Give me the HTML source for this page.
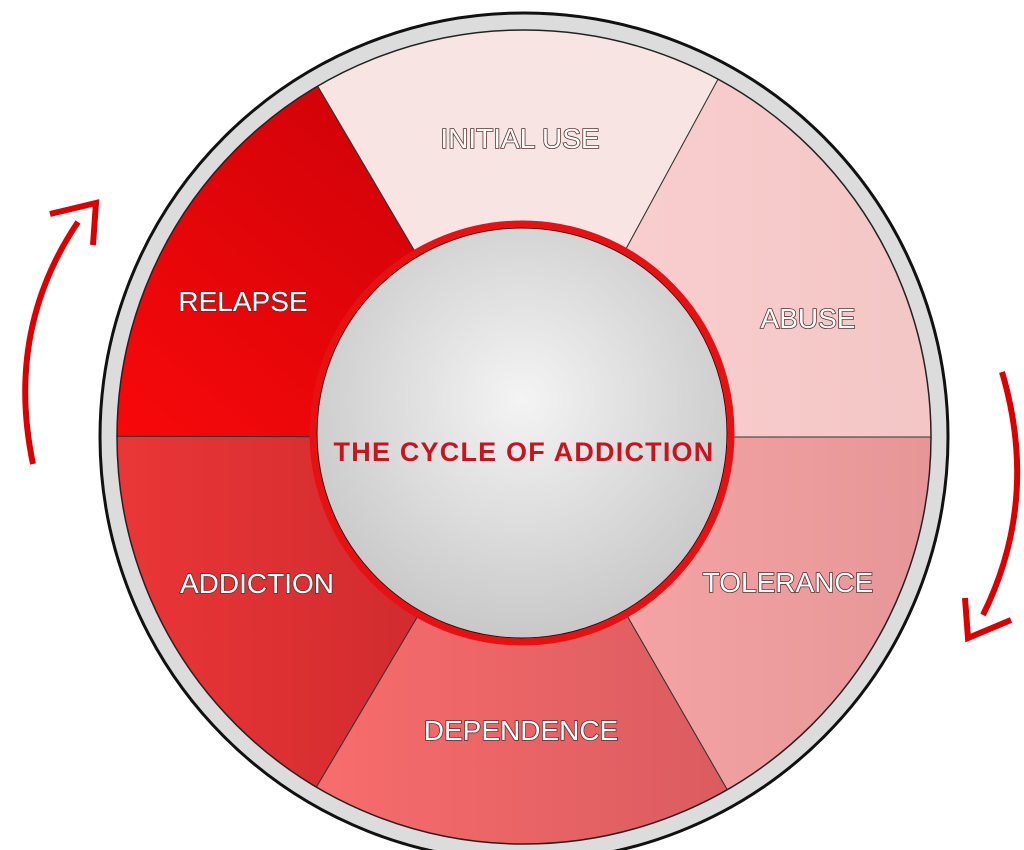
<!DOCTYPE html>
<html><head><meta charset="utf-8"><style>
html,body{margin:0;padding:0;background:#fff;width:1024px;height:850px;overflow:hidden}
svg{display:block}
.lbl{font-family:"Liberation Sans",sans-serif;font-size:28px;fill:#fff;stroke:#5a3030;stroke-width:1.6px;paint-order:stroke;text-anchor:middle}
</style></head><body>
<svg width="1024" height="850" viewBox="0 0 1024 850" xmlns="http://www.w3.org/2000/svg">
<defs>
<clipPath id="disk"><circle cx="524" cy="437" r="407"/></clipPath>
<linearGradient id="gRel" x1="0" y1="1" x2="1" y2="0"><stop offset="0" stop-color="#ff0a0a"/><stop offset="1" stop-color="#c00008"/></linearGradient>
<linearGradient id="gAdd" x1="0" y1="0" x2="1" y2="0"><stop offset="0" stop-color="#f43a3a"/><stop offset="1" stop-color="#c8282c"/></linearGradient>
<linearGradient id="gDep" x1="0" y1="0" x2="1" y2="0"><stop offset="0" stop-color="#fb6e6e"/><stop offset="1" stop-color="#d85a5e"/></linearGradient>
<linearGradient id="gTol" x1="0" y1="0" x2="1" y2="0"><stop offset="0" stop-color="#f8a8a8"/><stop offset="1" stop-color="#e29294"/></linearGradient>
<linearGradient id="gAbu" x1="0" y1="0" x2="1" y2="0"><stop offset="0" stop-color="#fbd0d0"/><stop offset="1" stop-color="#f2c4c4"/></linearGradient>
<radialGradient id="gCen" cx="0.5" cy="0.42" r="0.6"><stop offset="0" stop-color="#f4f4f4"/><stop offset="1" stop-color="#c6c6c6"/></radialGradient>
</defs>
<circle cx="524" cy="437" r="424" fill="#dcdcdc" stroke="#111" stroke-width="3"/>
<g clip-path="url(#disk)" stroke="#333" stroke-width="1">
<polygon points="524,437 267,0 761,0" fill="#f9e4e4"/>
<polygon points="524,437 761,0 1024,0 1024,437" fill="url(#gAbu)"/>
<polygon points="524,437 1024,437 1024,850 762,850" fill="url(#gTol)"/>
<polygon points="524,437 762,850 279,850" fill="url(#gDep)"/>
<polygon points="524,437 279,850 0,850 0,436" fill="url(#gAdd)"/>
<polygon points="524,437 0,436 0,0 267,0" fill="url(#gRel)"/>
</g>
<circle cx="524" cy="437" r="407" fill="none" stroke="#222" stroke-width="1.5"/>
<circle cx="522" cy="433" r="209" fill="url(#gCen)" stroke="#e81010" stroke-width="7"/>
<circle cx="522" cy="433" r="205" fill="none" stroke="#400" stroke-width="1"/>
<text x="524" y="461" font-family="Liberation Sans,sans-serif" font-weight="bold" font-size="27" letter-spacing="1.2" fill="#c8141c" text-anchor="middle">THE CYCLE OF ADDICTION</text>
<text class="lbl" x="520" y="148">INITIAL USE</text>
<text class="lbl" x="808" y="328">ABUSE</text>
<text class="lbl" x="788" y="592">TOLERANCE</text>
<text class="lbl" x="521" y="740">DEPENDENCE</text>
<text class="lbl" x="257" y="593">ADDICTION</text>
<text class="lbl" x="243" y="311">RELAPSE</text>
<g fill="none" stroke="#dd0000" stroke-width="6">
<path d="M33,464 Q5,330 78,222"/>
<polyline points="50,214 96,203 93,245"/>
<path d="M1002,372 Q1040,500 983,615"/>
<polyline points="965,598 968,638 1011,620"/>
</g>
</svg>
</body></html>
